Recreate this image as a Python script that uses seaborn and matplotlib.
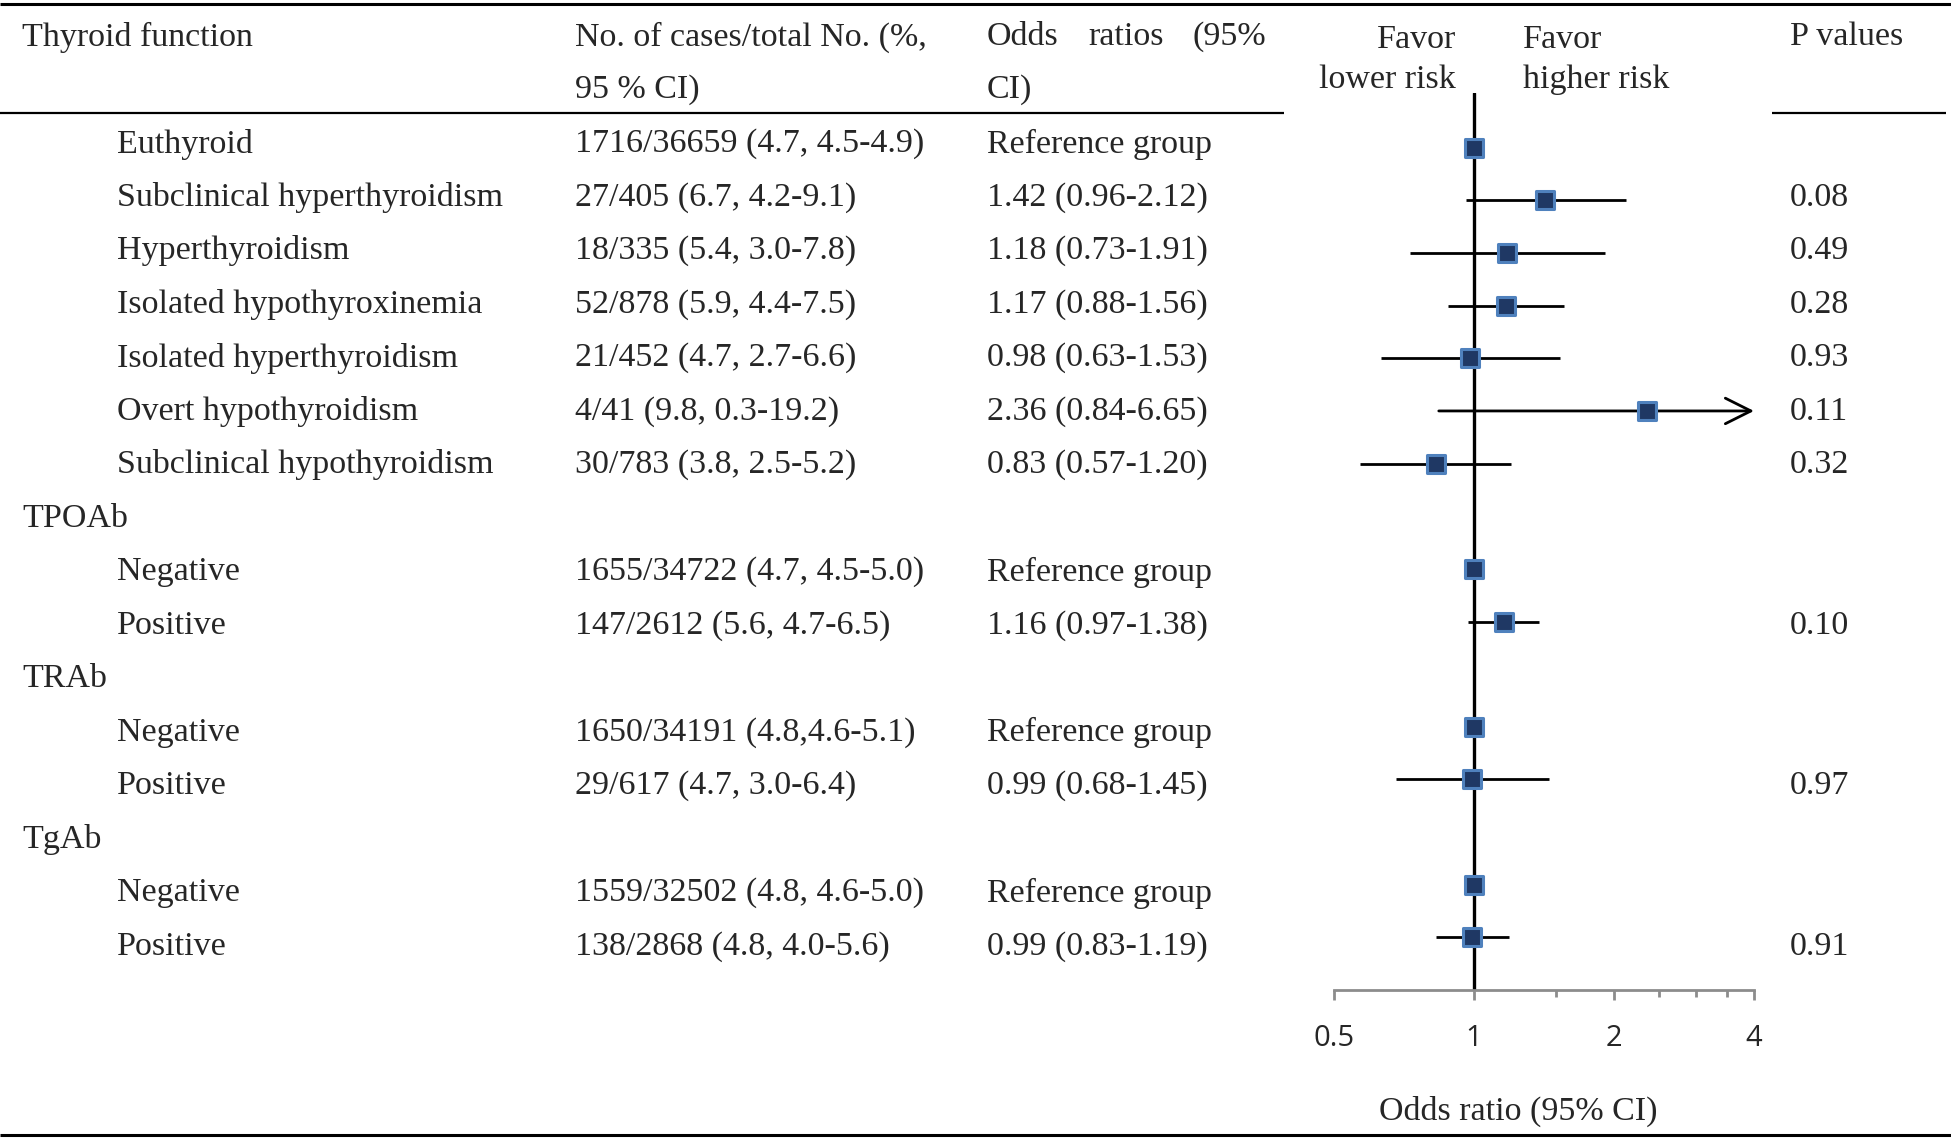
import matplotlib
matplotlib.use('Agg')
import matplotlib.pyplot as plt
import seaborn as sns
import numpy as np
import pandas as pd

# table rows
labels = ['Euthyroid', 'Subclinical hyperthyroidism', 'Hyperthyroidism', 'Isolated hypothyroxinemia',
          'Isolated hyperthyroidism', 'Overt hypothyroidism', 'Subclinical hypothyroidism',
          'TPOAb', 'Negative', 'Positive',
          'TRAb', 'Negative', 'Positive',
          'TgAb', 'Negative', 'Positive']
is_group = [False] * 7 + [True, False, False, True, False, False, True, False, False]
cases = ['1716/36659 (4.7, 4.5-4.9)', '27/405 (6.7, 4.2-9.1)', '18/335 (5.4, 3.0-7.8)',
         '52/878 (5.9, 4.4-7.5)', '21/452 (4.7, 2.7-6.6)', '4/41 (9.8, 0.3-19.2)',
         '30/783 (3.8, 2.5-5.2)', '',
         '1655/34722 (4.7, 4.5-5.0)', '147/2612 (5.6, 4.7-6.5)', '',
         '1650/34191 (4.8,4.6-5.1)', '29/617 (4.7, 3.0-6.4)', '',
         '1559/32502 (4.8, 4.6-5.0)', '138/2868 (4.8, 4.0-5.6)']
or_text = ['Reference group', '1.42 (0.96-2.12)', '1.18 (0.73-1.91)', '1.17 (0.88-1.56)',
           '0.98 (0.63-1.53)', '2.36 (0.84-6.65)', '0.83 (0.57-1.20)', '',
           'Reference group', '1.16 (0.97-1.38)', '',
           'Reference group', '0.99 (0.68-1.45)', '',
           'Reference group', '0.99 (0.83-1.19)']
odds = [1, 1.42, 1.18, 1.17, 0.98, 2.36, 0.83, np.nan, 1, 1.16, np.nan, 1, 0.99, np.nan, 1, 0.99]
lower = [np.nan, 0.96, 0.73, 0.88, 0.63, 0.84, 0.57, np.nan, np.nan, 0.97,
         np.nan, np.nan, 0.68, np.nan, np.nan, 0.83]
upper = [np.nan, 2.12, 1.91, 1.56, 1.53, 6.65, 1.20, np.nan, np.nan, 1.38,
         np.nan, np.nan, 1.45, np.nan, np.nan, 1.19]
p_values = ['', '0.08', '0.49', '0.28', '0.93', '0.11', '0.32', '', '', '0.10',
            '', '', '0.97', '', '', '0.91']

x_ticks = [0.5, 1, 2, 4]
x_minor = [1.5, 2.5, 3, 3.5]

df = pd.DataFrame({'row': np.arange(len(labels)), 'odds': odds, 'lower': lower, 'upper': upper})

sns.set_theme(style='white')
plt.rcParams['font.family'] = ['Liberation Serif', 'DejaVu Serif']

W, H = 1951, 1140
fig = plt.figure(figsize=(W / 100, H / 100), dpi=100)

# overlay axes in pixel coordinates for the table
tab = fig.add_axes([0, 0, 1, 1])
tab.set_xlim(0, W)
tab.set_ylim(H, 0)
tab.axis('off')

fs = 24.5
row_y0, row_dy = 144, 53.5

tab.hlines(4, 0, W, color='black', lw=2.2)
tab.hlines(113, 0, 1284, color='black', lw=1.6)
tab.hlines(113, 1772, 1946, color='black', lw=1.6)
tab.hlines(1135, 0, W, color='black', lw=2.2)

tab.text(22, 37, 'Thyroid function', fontsize=fs, va='center')
tab.text(575, 37, 'No. of cases/total No. (%,', fontsize=fs, va='center')
tab.text(575, 90, '95 % CI)', fontsize=fs, va='center')
tab.text(987, 37, 'Odds', fontsize=fs, va='center')
tab.text(1088, 37, 'ratios', fontsize=fs, va='center')
tab.text(1266, 37, '(95%', fontsize=fs, va='center', ha='right')
tab.text(987, 90, 'CI)', fontsize=fs, va='center')
tab.text(1456, 40, 'Favor', fontsize=fs, va='center', ha='right')
tab.text(1456, 80, 'lower risk', fontsize=fs, va='center', ha='right')
tab.text(1523, 40, 'Favor', fontsize=fs, va='center')
tab.text(1523, 80, 'higher risk', fontsize=fs, va='center')
tab.text(1790, 37, 'P values', fontsize=fs, va='center')
tab.text(1518, 1111, 'Odds ratio (95% CI)', fontsize=fs, va='center', ha='center')

for i, lab in enumerate(labels):
    y = row_y0 + i * row_dy
    tab.text(22 if is_group[i] else 117, y, lab, fontsize=fs, va='center')
    tab.text(575, y, cases[i], fontsize=fs, va='center')
    tab.text(987, y, or_text[i], fontsize=fs, va='center')
    tab.text(1790, y, p_values[i], fontsize=fs, va='center')

# forest plot axes
left, right, bottom, top = 1334, 1754, 990, 93
ax = fig.add_axes([left / W, (H - bottom) / H, (right - left) / W, (bottom - top) / H])
ax.patch.set_alpha(0)
ax.set_xscale('log', base=2)
ax.set_xlim(0.5, 4)
ax.set_ylim(16.0, -1.04)

ax.axvline(1, color='black', lw=2.4, zorder=1)

xmax = x_ticks[-1]
ci = df.dropna(subset=['lower'])
inside = ci[ci['upper'] <= xmax]
ax.hlines(inside['row'], inside['lower'], inside['upper'], color='black', lw=2, zorder=2)
for _, r in ci[ci['upper'] > xmax].iterrows():
    ax.annotate('', xy=(xmax, r['row']), xytext=(r['lower'], r['row']),
                arrowprops=dict(arrowstyle='->', lw=2, color='black', mutation_scale=46,
                                shrinkA=0, shrinkB=0), annotation_clip=False)

sns.scatterplot(data=df.dropna(subset=['odds']), x='odds', y='row', marker='s', s=150,
                color='#1F3864', edgecolor='#4F81BD', linewidth=2.2, zorder=3,
                legend=False, ax=ax, clip_on=False)

for s in ['top', 'left', 'right']:
    ax.spines[s].set_visible(False)
ax.spines['bottom'].set_color('#8c8c8c')
ax.spines['bottom'].set_linewidth(2)
ax.set_xticks(x_ticks)
ax.set_xticklabels([f'{t:g}' for t in x_ticks], fontfamily='Open Sans', fontsize=21)
ax.set_xticks(x_minor, minor=True)
ax.xaxis.set_minor_formatter(matplotlib.ticker.NullFormatter())
ax.tick_params(axis='x', which='major', direction='out', length=7.5, width=2,
               color='#8c8c8c', pad=17, bottom=True)
ax.tick_params(axis='x', which='minor', direction='out', length=5, width=2,
               color='#8c8c8c', bottom=True)
ax.set_yticks([])
ax.set_xlabel('')
ax.set_ylabel('')

fig.savefig('out.png', dpi=100)
